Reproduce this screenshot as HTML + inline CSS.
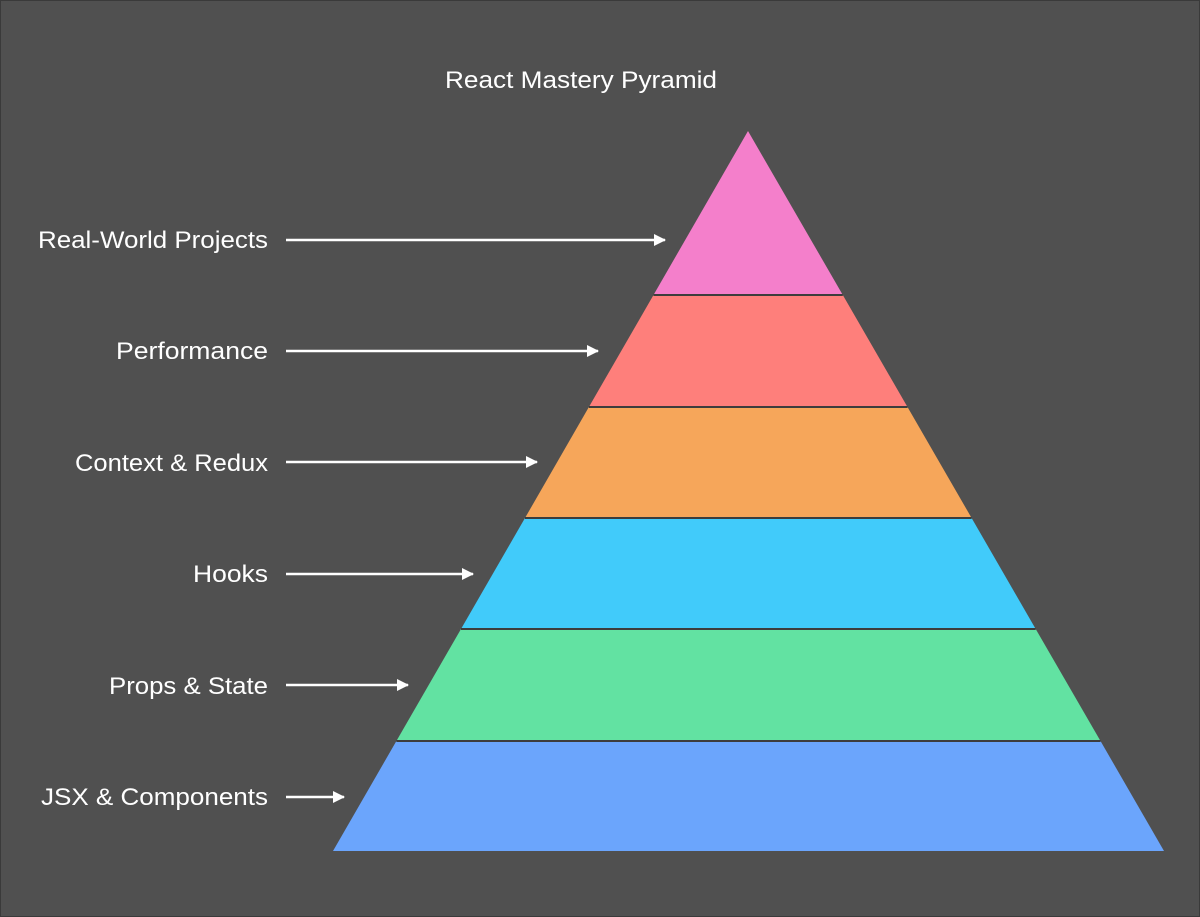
<!DOCTYPE html>
<html><head><meta charset="utf-8"><style>
html,body{margin:0;padding:0;background:#505050;}
svg{display:block;}
text{font-family:"Liberation Sans",sans-serif;fill:#fff;}
</style></head><body>
<svg width="1200" height="917" viewBox="0 0 1200 917" xmlns="http://www.w3.org/2000/svg">
<defs><marker id="a" markerWidth="12" markerHeight="12" refX="11" refY="6" orient="auto" markerUnits="userSpaceOnUse"><path d="M0,0 L12,6 L0,12 Z" fill="#fff"/></marker></defs>
<rect x="0.5" y="0.5" width="1199" height="916" fill="#505050" stroke="#3a3a3a"/>
<text x="445" y="88" font-size="24" textLength="272" lengthAdjust="spacingAndGlyphs">React Mastery Pyramid</text>
<polygon points="748,131 842.8,295 653.5,295" fill="#f47fcb"/>
<polygon points="653.5,295 842.8,295 907.5,407 588.9,407" fill="#fe7f7b"/>
<polygon points="588.9,407 907.5,407 971.6,518 525,518" fill="#f6a65a"/>
<polygon points="525,518 971.6,518 1035.7,629 461,629" fill="#41cbfa"/>
<polygon points="461,629 1035.7,629 1100.5,741 396.4,741" fill="#62e2a2"/>
<polygon points="396.4,741 1100.5,741 1164,851 333,851" fill="#6ba5fc"/>
<g stroke="#3d3d3d" stroke-width="2">
<line x1="653.5" y1="295" x2="842.8" y2="295"/>
<line x1="588.9" y1="407" x2="907.5" y2="407"/>
<line x1="525" y1="518" x2="971.6" y2="518"/>
<line x1="461" y1="629" x2="1035.7" y2="629"/>
<line x1="396.4" y1="741" x2="1100.5" y2="741"/>
</g>
<g font-size="24" lengthAdjust="spacingAndGlyphs">
<text x="38" y="248" textLength="230" lengthAdjust="spacingAndGlyphs">Real-World Projects</text>
<text x="116" y="359" textLength="152" lengthAdjust="spacingAndGlyphs">Performance</text>
<text x="75" y="471" textLength="193" lengthAdjust="spacingAndGlyphs">Context &amp; Redux</text>
<text x="193" y="582" textLength="75" lengthAdjust="spacingAndGlyphs">Hooks</text>
<text x="109" y="694" textLength="159" lengthAdjust="spacingAndGlyphs">Props &amp; State</text>
<text x="41" y="805" textLength="227" lengthAdjust="spacingAndGlyphs">JSX &amp; Components</text>
</g>
<g stroke="#fff" stroke-width="2.5" marker-end="url(#a)">
<line x1="286" y1="240" x2="665" y2="240"/>
<line x1="286" y1="351" x2="598" y2="351"/>
<line x1="286" y1="462" x2="537" y2="462"/>
<line x1="286" y1="574" x2="473" y2="574"/>
<line x1="286" y1="685" x2="408" y2="685"/>
<line x1="286" y1="797" x2="344" y2="797"/>
</g>
</svg>
</body></html>
